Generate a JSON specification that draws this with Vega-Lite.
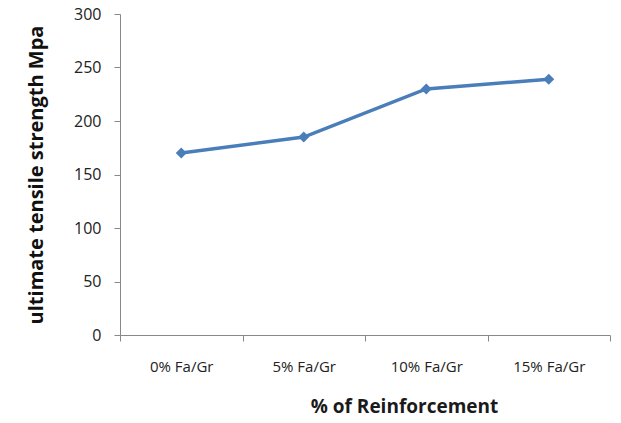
{
  "$schema": "https://vega.github.io/schema/vega-lite/v6.json",
  "width": 490,
  "height": 321,
  "autosize": {"type": "none"},
  "padding": {"left": 120, "top": 14, "right": 11, "bottom": 88},
  "background": "white",
  "config": {"view": {"stroke": null}, "font": "Open Sans"},
  "data": {"values": [
    {"reinforcement": "0% Fa/Gr", "strength": 170},
    {"reinforcement": "5% Fa/Gr", "strength": 185},
    {"reinforcement": "10% Fa/Gr", "strength": 230},
    {"reinforcement": "15% Fa/Gr", "strength": 239}
  ]},
  "encoding": {
    "x": {
      "field": "reinforcement", "type": "nominal", "sort": null,
      "scale": {"paddingInner": 0, "paddingOuter": 0},
      "axis": {
        "title": "% of Reinforcement", "titleFont": "Open Sans", "titleFontSize": 19, "titleFontWeight": "bold",
        "titleColor": "#1a1a1a", "titlePadding": 23, "titleX": 284,
        "labelAngle": 0, "labelFont": "Open Sans", "labelFontSize": 15, "labelColor": "#222", "labelPadding": 18,
        "tickBand": "extent", "tickSize": 6, "tickColor": "#888", "domainColor": "#888", "grid": false
      }
    },
    "y": {
      "field": "strength", "type": "quantitative",
      "scale": {"domain": [0, 300]},
      "axis": {
        "title": "ultimate tensile strength Mpa", "titleFont": "Open Sans", "titleFontSize": 20, "titleFontWeight": "bold",
        "titleColor": "#111", "titlePadding": 27,
        "values": [0, 50, 100, 150, 200, 250, 300],
        "labelFont": "Open Sans", "labelFontSize": 16, "labelColor": "#222", "labelPadding": 13,
        "tickSize": 6, "tickColor": "#888", "domainColor": "#888", "grid": false
      }
    }
  },
  "layer": [
    {"mark": {"type": "line", "color": "#4a7ebb", "strokeWidth": 3.5}},
    {"mark": {"type": "point", "shape": "diamond", "filled": true, "color": "#4a7ebb", "size": 120, "opacity": 1}}
  ]
}
